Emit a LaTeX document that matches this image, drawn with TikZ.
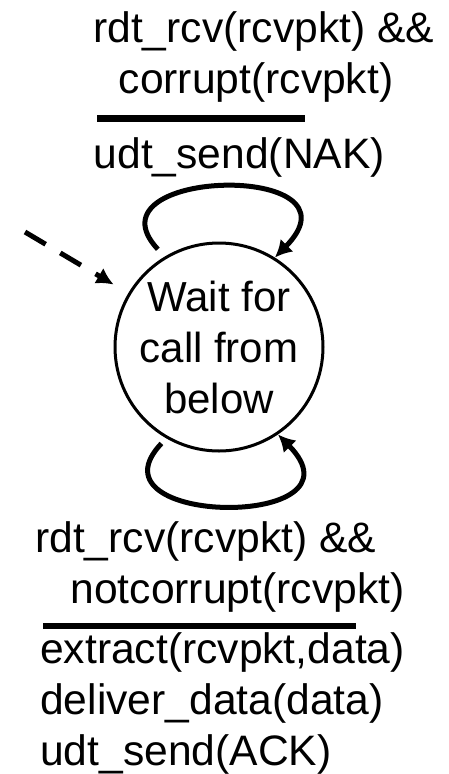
\documentclass[tikz,border=0pt]{standalone}
\usepackage{fontspec}
\setmainfont{Liberation Sans}
\usetikzlibrary{arrows.meta, shapes.geometric}

\begin{document}
\begin{tikzpicture}[x=1pt, y=1pt]
        \tikzstyle{state} = [circle, minimum size = 208pt, inner sep = 0pt, line width = 3pt, draw = black, align = center, font = \fontsize{42}{51}\selectfont]
        \tikzstyle{label} = [inner sep = 0pt, align = left, anchor = base west, font = \fontsize{42.6}{51}\selectfont]
        \tikzstyle{connect} = [-{Latex[length = 17pt, width = 18pt]}, line width = 5pt]
        \tikzstyle{rule} = [line width = 6.5pt]
        \useasboundingbox (0,0) rectangle (449,-774);
        \node[state] (wait) at (219,-347) {Wait for\\call from\\below};
        \coordinate (start) at (25,-232);
        % base anchor sits on the last line
        \node[label] (nakguard) at (93,-93) {rdt\_rcv(rcvpkt) \&\&\\\hspace*{0.6em}corrupt(rcvpkt)};
        \node[label] (nakaction) at (93.5,-168) {udt\_send(NAK)};
        \node[label] (ackguard) at (35,-603) {rdt\_rcv(rcvpkt) \&\&\\\hspace*{0.83em}notcorrupt(rcvpkt)};
        \node[label] (ackaction) at (40,-765) {extract(rcvpkt,data)\\deliver\_data(data)\\udt\_send(ACK)};
        \draw[rule] (97,-118.5) -- (305,-118.5);
        \draw[rule] (43,-626) -- (356,-626);
        \draw[connect, dash pattern = on 24pt off 17pt, shorten > = 17pt] (start) -- (wait);
        \draw[connect, shorten < = 10pt] (wait.121) .. controls +(-83,89) and +(95,96.5) .. (wait.58);
        \draw[connect, shorten < = 7pt] (wait.-120) .. controls +(-84,-88.6) and +(94,-95.5) .. (wait.-56);
      \end{tikzpicture}
\end{document}
